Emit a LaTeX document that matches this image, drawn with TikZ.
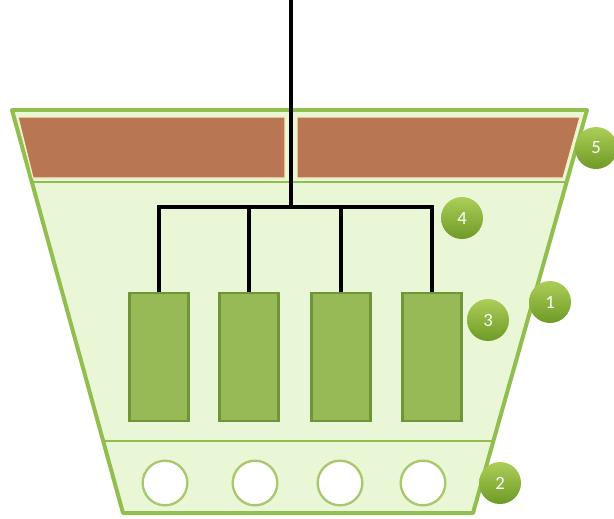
\documentclass[tikz,border=0pt]{standalone}
\usepackage{tikz}
\usepackage{fontspec}
\newfontfamily\badgefont{Carlito}
\definecolor{potrim}{RGB}{146,190,80}
\definecolor{potfill}{RGB}{234,247,214}
\definecolor{soil}{RGB}{184,118,82}
\definecolor{soiledge}{RGB}{242,240,196}
\definecolor{cellfill}{RGB}{152,186,86}
\definecolor{celledge}{RGB}{112,148,56}
\definecolor{holeedge}{RGB}{168,200,110}
\definecolor{badgetop}{RGB}{172,206,88}
\definecolor{badgebot}{RGB}{110,154,38}

\begin{document}
\begin{tikzpicture}
[x=0.03cm,y=-0.03cm,%
  cell/.style={shape=rectangle,draw=celledge,fill=cellfill,line width=2.4pt,minimum width=1.77cm,minimum height=3.84cm,inner sep=0pt},%
  hole/.style={shape=circle,draw=holeedge,fill=white,line width=2pt,minimum size=1.34cm,inner sep=0pt},%
  badge/.style={shape=circle,top color=badgetop,bottom color=badgebot,minimum size=1.26cm,inner sep=0pt,text=white,font=\badgefont\fontsize{16}{18}\selectfont},%
  wire/.style={line width=2.8pt,black}]
\useasboundingbox (0,0) rectangle (614,518);
\filldraw[draw=potrim,fill=potfill,line width=3.4pt,line join=round]
  (12,110) -- (587,110) -- (473,513) -- (123,513) -- cycle;
\filldraw[draw=soiledge,fill=soil,line width=1pt]
  (18,117) -- (285,117) -- (285,178) -- (33,178) -- cycle;
\filldraw[draw=soiledge,fill=soil,line width=1pt]
  (297,117) -- (580,117) -- (563,178) -- (297,178) -- cycle;
\draw[potrim,line width=2pt] (32,182) -- (567,182);
\draw[potrim,line width=2.4pt] (103,441) -- (494,441);
\node[cell] (c1) at (159,357) {};
\node[cell] (c2) at (249,357) {};
\node[cell] (c3) at (341,357) {};
\node[cell] (c4) at (432,357) {};
\node[hole] (h1) at (165,483) {};
\node[hole] (h2) at (255,483) {};
\node[hole] (h3) at (340,483) {};
\node[hole] (h4) at (423,483) {};
\coordinate (feed) at (291,0);
\coordinate (tap) at (291,207);
\draw[wire] (feed) -- (tap);
\draw[wire,line join=miter] (c1.north) |- (tap) -| (c4.north);
\draw[wire] (c2.north) -- (c2.north |- tap);
\draw[wire] (c3.north) -- (c3.north |- tap);
\node[badge] (b1) at (550,302) {1};
\node[badge] (b2) at (500,483) {2};
\node[badge] (b3) at (488,320) {3};
\node[badge] (b4) at (462,218) {4};
\node[badge] (b5) at (596,148) {5};
\end{tikzpicture}
\end{document}
